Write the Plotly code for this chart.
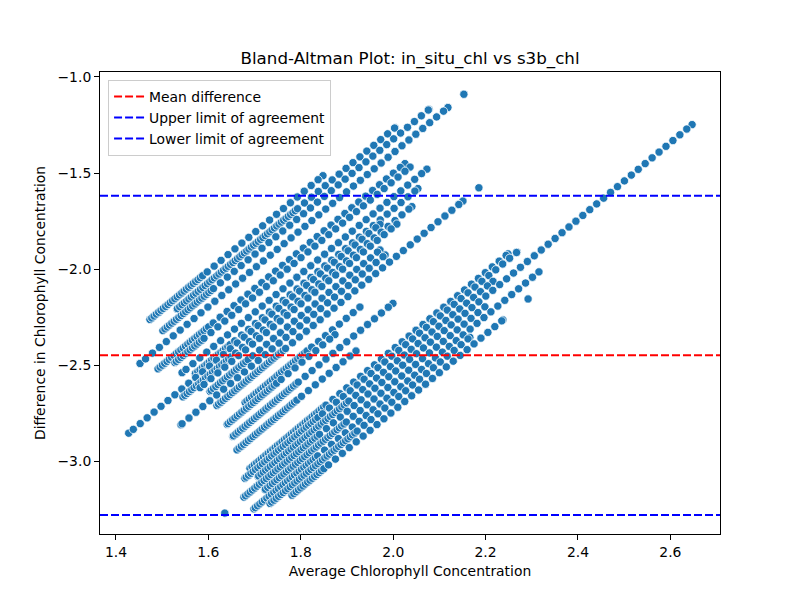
import plotly.graph_objects as go

# s3b_chl level of every diagonal streak (one streak per satellite value)
s3b_chl = [2.605, 2.636, 2.662, 2.698, 2.751, 2.771, 2.813, 2.844, 2.855, 2.878,
           2.891, 2.922, 2.946, 2.974, 3.027, 3.045, 3.089, 3.133, 3.209, 3.224,
           3.248, 3.271, 3.297, 3.323, 3.344, 3.370]
# in situ range paired with each s3b level, and where the densely sampled part ends
in_situ_lo = [0.342, 0.428, 0.341, 0.206, 0.231, 0.284, 0.273, 0.298, 0.000, 0.212,
              0.273, 0.285, 0.135, 0.263, 0.332, 0.236, 0.217, 0.191, 0.171, 0.134,
              0.167, 0.083, 0.148, 0.074, 0.123, 0.192]
in_situ_dense = [0.571, 0.950, 0.550, 0.206, 0.450, 0.400, 0.273, 0.450, 0.000, 0.420,
                 0.273, 0.450, 0.135, 0.550, 0.600, 0.450, 0.500, 0.450, 0.500, 0.450,
                 0.550, 0.400, 0.500, 0.350, 0.500, 0.330]
in_situ_hi = [1.091, 1.372, 1.493, 1.539, 1.300, 1.302, 1.333, 1.263, 1.088, 1.203,
              1.125, 1.021, 1.019, 1.328, 0.829, 0.703, 0.910, 0.706, 1.288, 1.312,
              1.184, 2.023, 1.100, 1.308, 0.988, 1.105]

# in situ readings: finely spaced low values and coarser readings over the whole range
in_situ_fine = [0.00, 0.01, 0.02, 0.03, 0.04, 0.05, 0.06, 0.07, 0.08, 0.09,
                0.10, 0.11, 0.12, 0.13, 0.14, 0.15, 0.16, 0.17, 0.18, 0.19,
                0.20, 0.21, 0.22, 0.23, 0.24, 0.25, 0.26, 0.27, 0.28, 0.29,
                0.30, 0.31, 0.32, 0.33, 0.34, 0.35, 0.36, 0.37, 0.38, 0.39,
                0.40, 0.41, 0.42, 0.43, 0.44, 0.45, 0.46, 0.47, 0.48, 0.49,
                0.50, 0.51, 0.52, 0.53, 0.54, 0.55, 0.56, 0.57, 0.58, 0.59,
                0.60, 0.61, 0.62, 0.63, 0.64, 0.65, 0.66, 0.67, 0.68, 0.69,
                0.70, 0.71, 0.72, 0.73, 0.74, 0.75, 0.76, 0.77, 0.78, 0.79,
                0.80, 0.81, 0.82, 0.83, 0.84, 0.85, 0.86, 0.87, 0.88, 0.89,
                0.90, 0.91, 0.92, 0.93, 0.94, 0.95, 0.96, 0.97, 0.98, 0.99, 1.00]
in_situ_coarse = [0.02, 0.05, 0.08, 0.11, 0.14, 0.17, 0.20, 0.23, 0.26, 0.29,
                  0.32, 0.35, 0.38, 0.41, 0.44, 0.47, 0.50, 0.53, 0.56, 0.59,
                  0.62, 0.65, 0.68, 0.71, 0.74, 0.77, 0.80, 0.83, 0.86, 0.89,
                  0.92, 0.95, 0.98, 1.01, 1.04, 1.07, 1.10, 1.13, 1.16, 1.19,
                  1.22, 1.25, 1.28, 1.31, 1.34, 1.37, 1.40, 1.43, 1.46, 1.49,
                  1.52, 1.55, 1.58, 1.61, 1.64, 1.67, 1.70, 1.73, 1.76, 1.79,
                  1.82, 1.85, 1.88, 1.91, 1.94, 1.97, 2.00, 2.03]

# stray pairs sitting off the ends of the streaks
extra_in_situ = [1.608, 1.397, 0.000, 1.214]
extra_s3b = [2.698, 2.974, 3.271, 3.370]

mean_diff = -2.449
upper_loa = -1.618
lower_loa = -3.281

in_situ_vals = []
s3b_vals = []
for s, lo, dn, hi in zip(s3b_chl, in_situ_lo, in_situ_dense, in_situ_hi):
    vals = [lo, hi]
    vals += [v for v in in_situ_fine if lo < v <= dn]
    vals += [v for v in in_situ_coarse if dn < v < hi]
    in_situ_vals += vals
    s3b_vals += [s] * len(vals)
in_situ_vals += extra_in_situ
s3b_vals += extra_s3b

avg = [(a + b) / 2 for a, b in zip(in_situ_vals, s3b_vals)]
diff = [a - b for a, b in zip(in_situ_vals, s3b_vals)]

fig = go.Figure()
fig.add_trace(go.Scatter(
    x=avg, y=diff, mode="markers", showlegend=False,
    marker=dict(color="#1f77b4", size=8.3, line=dict(color="white", width=0.8)),
))

for val, col, name in [(mean_diff, "red", "Mean difference"),
                       (upper_loa, "blue", "Upper limit of agreement"),
                       (lower_loa, "blue", "Lower limit of agreement")]:
    fig.add_shape(type="line", xref="paper", x0=0, x1=1, yref="y", y0=val, y1=val,
                  line=dict(color=col, width=2, dash="8px,3px"),
                  showlegend=True, name=name)

# page body has an 8px margin, so the figure is 792x592 drawn from (8, 8)
fig.update_layout(
    width=792, height=592,
    margin=dict(l=92, r=80, t=64, b=66),
    plot_bgcolor="white", paper_bgcolor="white",
    font=dict(family="DejaVu Sans", size=13.9, color="black"),
    title=dict(text="Bland-Altman Plot: in_situ_chl vs s3b_chl", x=0.5076, xanchor="center",
               y=0.9155, yanchor="middle", font=dict(size=16.7)),
    legend=dict(x=0.013, y=0.983, xanchor="left", yanchor="top",
                bgcolor="rgba(255,255,255,0.8)", bordercolor="#cccccc", borderwidth=1,
                font=dict(size=13.9)),
    xaxis=dict(range=[1.3654, 2.7074], tickvals=[1.4, 1.6, 1.8, 2.0, 2.2, 2.4, 2.6],
               ticktext=["1.4", "1.6", "1.8", "2.0", "2.2", "2.4", "2.6"],
               ticks="outside", ticklen=5, tickcolor="black", showgrid=False, zeroline=False,
               showline=True, linecolor="black", linewidth=1, mirror=True,
               tickfont=dict(size=13.9),
               title=dict(text="Average Chlorophyll Concentration", standoff=7,
                          font=dict(size=13.9))),
    yaxis=dict(range=[-3.380, -0.974], tickvals=[-1.0, -1.5, -2.0, -2.5, -3.0],
               ticktext=["\u22121.0", "\u22121.5", "\u22122.0", "\u22122.5", "\u22123.0"],
               ticks="outside", ticklen=5, tickcolor="black", showgrid=False, zeroline=False,
               showline=True, linecolor="black", linewidth=1, mirror=True,
               tickfont=dict(size=13.9),
               title=dict(text="Difference in Chlorophyll Concentration", standoff=8,
                          font=dict(size=13.9))),
)

fig.write_html("out.html")
